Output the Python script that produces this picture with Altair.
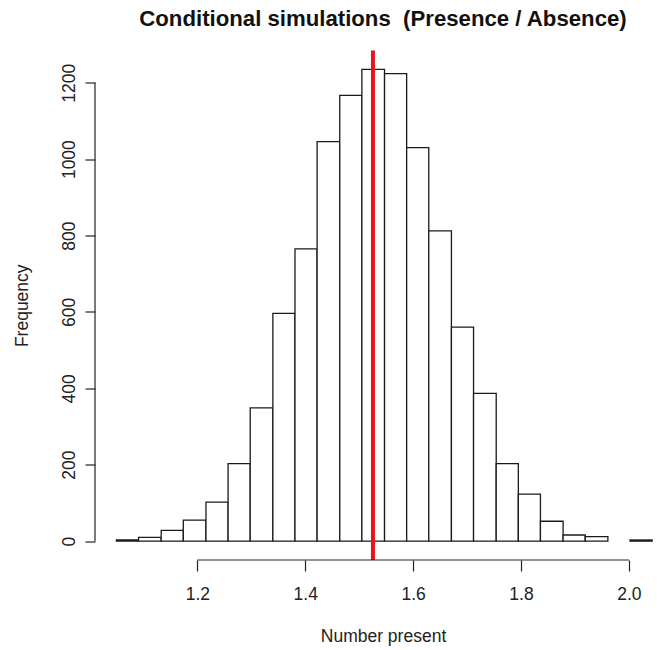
import altair as alt
import pandas as pd

# ---- data ----
bin_left = [1.050, 1.091, 1.133, 1.174, 1.216, 1.257, 1.298, 1.340, 1.381, 1.422,
            1.464, 1.505, 1.547, 1.588, 1.629, 1.671, 1.712, 1.754, 1.795, 1.836,
            1.878, 1.919, 1.961, 2.002]
bin_right = [1.091, 1.133, 1.174, 1.216, 1.257, 1.298, 1.340, 1.381, 1.422, 1.464,
             1.505, 1.547, 1.588, 1.629, 1.671, 1.712, 1.754, 1.795, 1.836, 1.878,
             1.919, 1.961, 2.002, 2.043]
counts = [3, 10, 28, 55, 102, 203, 349, 596, 765, 1046,
          1167, 1235, 1224, 1030, 812, 560, 387, 203, 123, 52,
          16, 12, 0, 3]
observed = [1.5255]
x_ticks = [1.2, 1.4, 1.6, 1.8, 2.0]
y_ticks = [0, 200, 400, 600, 800, 1000, 1200]
title_text = ["Conditional simulations \u00a0(Presence / Absence)"]
x_title = "Number present"
y_title = "Frequency"

FONT = "Liberation Sans"
W, H = 563, 509.5
x_dom = [1.0103, 2.0539]
y_dom = [-49.4, 1284.4]
LAB = 17.5

hist = pd.DataFrame({"left": bin_left, "right": bin_right, "count": counts})
xs = alt.Scale(domain=x_dom, nice=False, zero=False)
ys = alt.Scale(domain=y_dom, nice=False, zero=False)

bars = alt.Chart(hist).transform_filter("datum.count > 0").transform_calculate(
    y0="0"
).mark_rect(
    fill="white", stroke="#1a1a1a", strokeWidth=1.3
).encode(
    x=alt.X("left:Q", scale=xs,
            axis=alt.Axis(values=x_ticks, format=".1f", domain=False, grid=False,
                          tickSize=11, tickColor="#222", tickWidth=1.2,
                          labelFont=FONT, labelFontSize=LAB, labelColor="#222",
                          labelPadding=14, labelFlush=False,
                          title=x_title, titleFont=FONT, titleFontSize=LAB,
                          titleFontWeight="normal", titleColor="#222",
                          titleX=288, titleY=76, titleAlign="center",
                          titleBaseline="middle")),
    x2="right:Q",
    y=alt.Y("count:Q", scale=ys,
            axis=alt.Axis(values=y_ticks, format="d", domain=False, grid=False,
                          tickSize=10, tickColor="#222", tickWidth=1.2,
                          labelFont=FONT, labelFontSize=LAB, labelColor="#222",
                          labelAngle=270, labelAlign="center", labelBaseline="bottom",
                          labelPadding=7, labelFlush=False,
                          title=y_title, titleFont=FONT, titleFontSize=LAB,
                          titleFontWeight="normal", titleColor="#222",
                          titleX=-73, titleY=H / 2, titleAngle=270,
                          titleAlign="center", titleBaseline="middle")),
    y2=alt.Y2("y0:Q"),
)

xaxis_line = alt.Chart(pd.DataFrame({"a": [x_ticks[0]], "b": [x_ticks[-1]]})).mark_rule(
    color="#222", strokeWidth=1.2
).encode(x=alt.X("a:Q", scale=xs), x2="b:Q", y=alt.value(H))

yaxis_line = alt.Chart(pd.DataFrame({"a": [y_ticks[0]], "b": [y_ticks[-1]]})).mark_rule(
    color="#222", strokeWidth=1.2
).encode(y=alt.Y("a:Q", scale=ys), y2="b:Q", x=alt.value(0))

red = alt.Chart(pd.DataFrame({"v": observed})).mark_rule(
    color="#e8141c", strokeWidth=4
).encode(x=alt.X("v:Q", scale=xs), y=alt.value(0), y2=alt.value(H))

title = alt.Chart(pd.DataFrame({"t": title_text})).mark_text(
    font=FONT, fontSize=22.2, fontWeight="bold", color="#111",
    align="center", baseline="middle"
).encode(text="t:N", x=alt.value(288), y=alt.value(-32))

chart = alt.layer(bars, red, xaxis_line, yaxis_line, title).properties(
    width=W, height=H,
    background="white",
    autosize=alt.AutoSizeParams(type="none"),
    padding={"left": 95, "top": 50.5, "right": 0, "bottom": 90},
).configure_view(strokeWidth=0, stroke="transparent")

chart.save("out.html", embed_options={"renderer": "svg", "actions": False})
